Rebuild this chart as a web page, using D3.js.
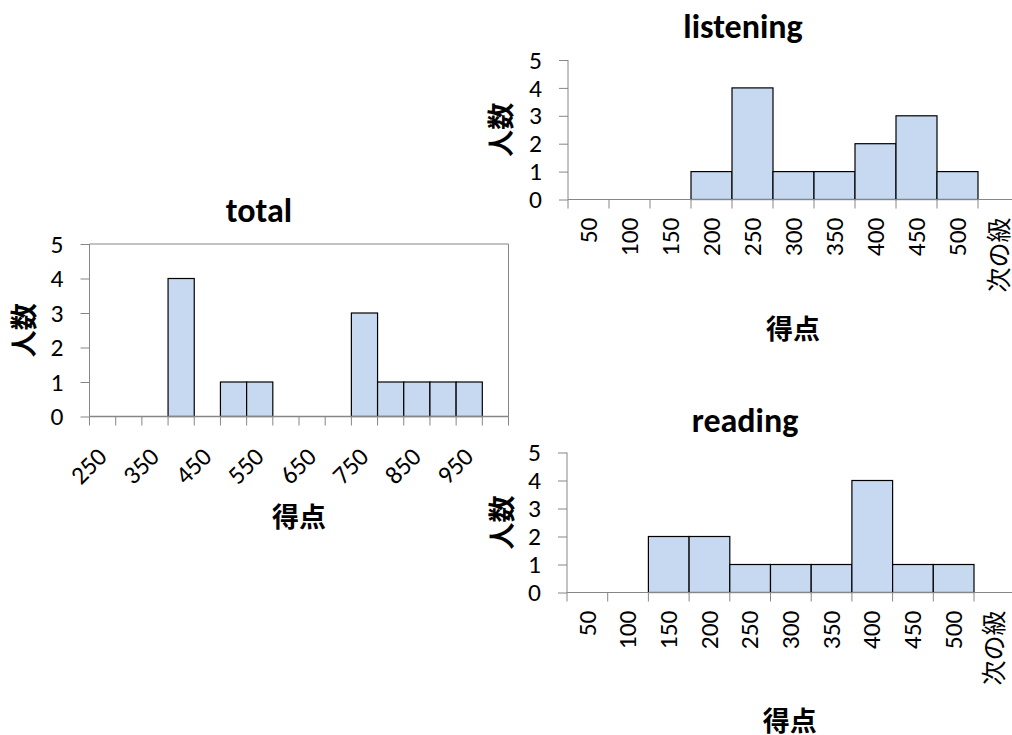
<!DOCTYPE html>
<html>
<head>
<meta charset="utf-8">
<script src="https://cdn.jsdelivr.net/npm/d3@7/dist/d3.min.js"></script>
<style>
  html, body { margin: 0; padding: 0; background: #fff; }
  svg { display: block; }
  .tick-label { font-family: Calibri, Carlito, "Noto Sans CJK JP", sans-serif; font-size: 25.5px; fill: #000; }
  .tick-label.cjk { font-family: "Noto Sans CJK JP", sans-serif; font-size: 25px; }
  .chart-title { font-family: Calibri, Carlito, "Noto Sans CJK JP", sans-serif; font-size: 34px; font-weight: bold; fill: #000; }
  .axis-title { font-family: "Noto Sans CJK JP", sans-serif; font-size: 27px; font-weight: bold; fill: #000; }
</style>
</head>
<body>
<svg id="chart" width="1012" height="735"></svg>
<script>
// Score bins (upper bounds) and head counts for each histogram
const totalBins = ["250","300","350","400","450","500","550","600","650","700","750","800","850","900","950","次の級"];
const totalCounts = [0,0,0,4,0,1,1,0,0,0,3,1,1,1,1,0];
const totalTickLabels = ["250","350","450","550","650","750","850","950"];

const sectionBins = ["50","100","150","200","250","300","350","400","450","500","次の級"];
const listeningCounts = [0,0,0,1,4,1,1,2,3,1,0];
const readingCounts = [0,0,2,2,1,1,1,4,1,1,0];
const sectionTickLabels = sectionBins;

const countTicks = [0,1,2,3,4,5];

const AXIS = "#868686";
const FILL = "#c6d9f1";

const svg = d3.select("#chart");

function drawHistogram(cfg) {
  const g = svg.append("g");
  const x = d3.scaleBand().domain(cfg.bins).range([cfg.left, cfg.right]).padding(0);
  const y = d3.scaleLinear().domain([0, 5]).range([cfg.bottom, cfg.top]);

  // optional plot-area frame (top and right edges)
  if (cfg.frame) {
    g.append("line").attr("x1", cfg.left).attr("x2", cfg.right)
      .attr("y1", y(5)).attr("y2", y(5)).attr("stroke", AXIS).attr("stroke-width", 1);
    g.append("line").attr("x1", cfg.right).attr("x2", cfg.right)
      .attr("y1", y(5)).attr("y2", y(0)).attr("stroke", AXIS).attr("stroke-width", 1);
  }

  // bars
  g.selectAll("rect.bar")
    .data(cfg.bins.map((b, i) => ({ bin: b, count: cfg.counts[i] })).filter(d => d.count > 0))
    .join("rect")
    .attr("class", "bar")
    .attr("x", d => x(d.bin))
    .attr("y", d => y(d.count))
    .attr("width", x.bandwidth())
    .attr("height", d => y(0) - y(d.count))
    .attr("fill", FILL)
    .attr("stroke", "#000")
    .attr("stroke-width", 1.2);

  // y axis
  const yAxis = d3.axisLeft(y).tickValues(countTicks).tickSize(9).tickPadding(17).tickFormat(d3.format("d"));
  const ya = g.append("g").attr("transform", `translate(${cfg.left},0)`).call(yAxis);
  ya.attr("font-family", null).attr("font-size", null);
  ya.select(".domain").attr("stroke", AXIS).attr("d", `M0,${y(5)}V${y(0)}`);
  ya.selectAll(".tick line").attr("stroke", AXIS);
  ya.selectAll(".tick text").attr("class", "tick-label").attr("dy", "0.32em");

  // x axis line and ticks between categories
  g.append("line").attr("x1", cfg.left).attr("x2", cfg.right)
    .attr("y1", y(0)).attr("y2", y(0)).attr("stroke", AXIS).attr("stroke-width", cfg.xAxisWidth || 1);
  const edges = cfg.bins.map(b => x(b)).concat([x.range()[1]]);
  g.selectAll("line.xtick").data(edges).join("line")
    .attr("class", "xtick")
    .attr("x1", d => d).attr("x2", d => d)
    .attr("y1", y(0)).attr("y2", y(0) + 9)
    .attr("stroke", AXIS).attr("stroke-width", 1);

  // category labels
  const labelled = cfg.bins.filter(b => cfg.tickLabels.includes(b));
  g.selectAll("text.xlab").data(labelled).join("text")
    .attr("class", d => /^\d+$/.test(d) ? "tick-label xlab" : "tick-label cjk xlab")
    .attr("text-anchor", "end")
    .attr("dy", d => /^\d+$/.test(d) ? "0.32em" : "0.36em")
    .attr("transform", d => `translate(${x(d) + x.bandwidth() / 2 + cfg.labelDx},${y(0) + cfg.labelDy}) rotate(${cfg.labelAngle})`)
    .text(d => d);

  // titles
  g.append("text").attr("class", "chart-title").attr("text-anchor", "middle")
    .attr("x", cfg.titleX).attr("y", cfg.titleY).text(cfg.title);
  g.append("text").attr("class", "axis-title").attr("text-anchor", "middle")
    .attr("transform", `translate(${cfg.yTitleX},${(y(0) + y(5)) / 2}) rotate(-90)`)
    .attr("dy", "0.36em")
    .text("人数");
  g.append("text").attr("class", "axis-title").attr("text-anchor", "middle")
    .attr("x", (cfg.left + cfg.right) / 2 + (cfg.xTitleDx || 0)).attr("y", cfg.xTitleY)
    .text("得点");
}

drawHistogram({
  title: "total", bins: totalBins, counts: totalCounts, tickLabels: totalTickLabels,
  left: 89.5, right: 508.5, top: 244, bottom: 416.5, frame: true, xAxisWidth: 1.5,
  labelAngle: -45, labelDx: 0, labelDy: 36,
  titleX: 259, titleY: 222, yTitleX: 24, xTitleY: 527
});

drawHistogram({
  title: "listening", bins: sectionBins, counts: listeningCounts, tickLabels: sectionTickLabels,
  left: 568, right: 568 + 11 * 41, top: 60, bottom: 199.5, frame: false,
  labelAngle: -90, labelDx: 0, labelDy: 18,
  titleX: 743, titleY: 38, yTitleX: 501, xTitleY: 339, xTitleDx: -0.5
});

drawHistogram({
  title: "reading", bins: sectionBins, counts: readingCounts, tickLabels: sectionTickLabels,
  left: 567, right: 567 + 11 * 40.7, top: 452.5, bottom: 592.5, frame: false,
  labelAngle: -90, labelDx: 0, labelDy: 18,
  titleX: 745, titleY: 432, yTitleX: 502, xTitleY: 731, xTitleDx: -1
});
</script>
</body>
</html>
